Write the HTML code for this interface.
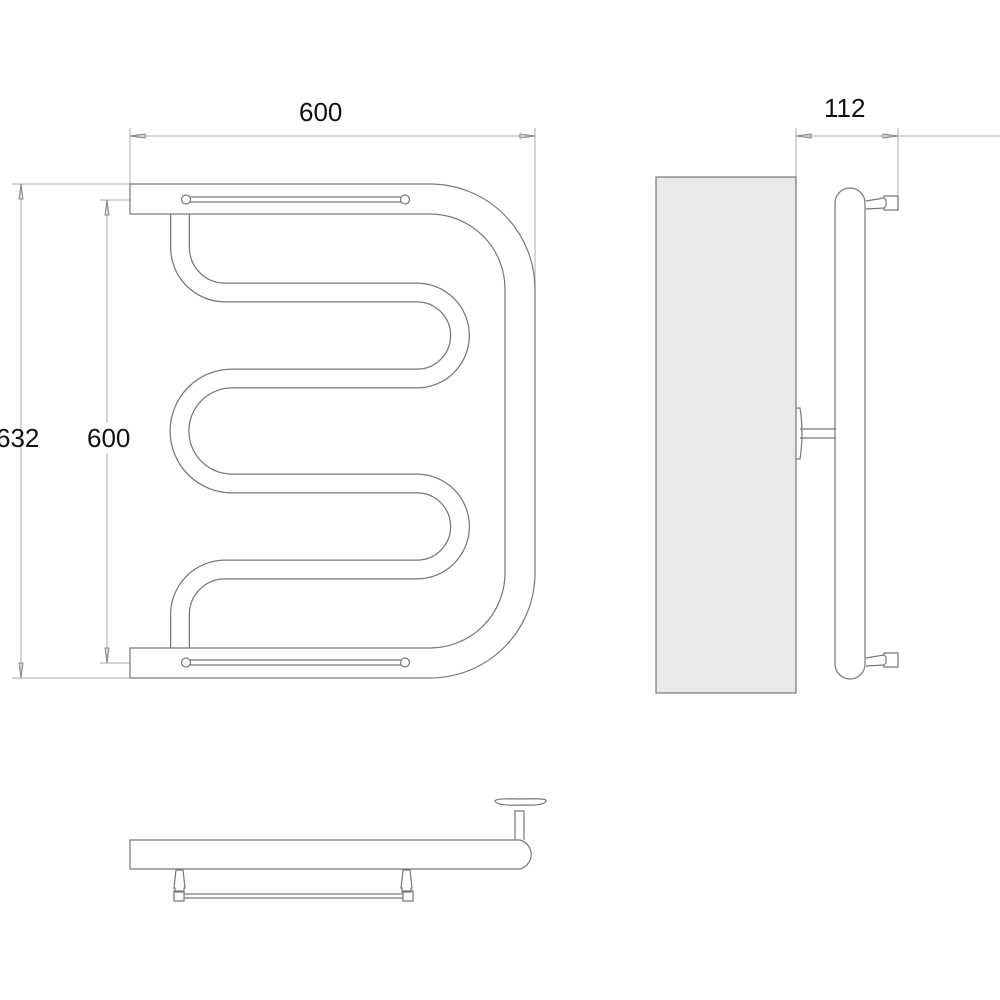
<!DOCTYPE html>
<html><head><meta charset="utf-8"><style>
html,body{margin:0;padding:0;background:#fff;width:1000px;height:1000px;overflow:hidden}
svg text{font-family:"Liberation Sans",sans-serif;font-size:26px;fill:#111}
</style></head><body>
<svg width="1000" height="1000" viewBox="0 0 1000 1000" xmlns="http://www.w3.org/2000/svg">
<g fill="none" stroke="#bbb" stroke-width="1.2">
  <!-- top dim -->
  <line x1="130" y1="136" x2="535" y2="136"/>
  <line x1="130" y1="128" x2="130" y2="184"/>
  <line x1="535" y1="128" x2="535" y2="290"/>
  <!-- left dims -->
  <line x1="12" y1="184" x2="130" y2="184"/>
  <line x1="12" y1="678" x2="130" y2="678"/>
  <line x1="21" y1="184" x2="21" y2="678"/>
  <line x1="100" y1="200" x2="130" y2="200"/>
  <line x1="100" y1="663" x2="130" y2="663"/>
  <line x1="107" y1="200" x2="107" y2="663"/>
  <!-- 112 dim -->
  <line x1="796" y1="136" x2="1000" y2="136"/>
  <line x1="796" y1="128" x2="796" y2="177"/>
  <line x1="898" y1="128" x2="898" y2="210"/>
</g>
<g fill="none" stroke="#888" stroke-width="1">
  <path d="M130,136 l15,-2 v4z M535,136 l-15,-2 v4z M21,184 l-2,15 h4z M21,678 l-2,-15 h4z M107,200 l-2,15 h4z M107,663 l-2,-15 h4z M796,136 l15,-2 v4z M898,136 l-15,-2 v4z"/>
</g>
<text x="299" y="121">600</text>
<text x="824" y="117">112</text>
<text x="-4" y="447">632</text>
<rect x="86" y="423" width="48" height="30" fill="#fff"/>
<text x="87" y="447">600</text>

<g fill="none" stroke="#777" stroke-width="1.2">
  <!-- serpentine -->
  <path d="M180,214 V247 A45,45 0 0 0 225,292.5 H417 A43,43 0 0 1 417,378.5 H232 A52.5,52.5 0 0 0 232,483.5 H417 A43,43 0 0 1 417,569.5 H225 A45,45 0 0 0 180,614.5 V648" stroke="#777" stroke-width="20"/>
  <path d="M180,213 V247 A45,45 0 0 0 225,292.5 H417 A43,43 0 0 1 417,378.5 H232 A52.5,52.5 0 0 0 232,483.5 H417 A43,43 0 0 1 417,569.5 H225 A45,45 0 0 0 180,614.5 V649" stroke="#fff" stroke-width="17.5"/>
  <!-- big tube -->
  <path d="M130,184 H430 A105,105 0 0 1 535,289 V573 A105,105 0 0 1 430,678 H130 V648 H430 A75,75 0 0 0 505,573 V289 A75,75 0 0 0 430,214 H130 Z" fill="#fff"/>
  <!-- rods -->
  <path d="M190,197 H402 M190,202 H402 M190,660 H402 M190,665 H402"/>
  <circle cx="186" cy="199.5" r="4.5" fill="#fff"/><circle cx="405" cy="199.5" r="4.5" fill="#fff"/>
  <circle cx="186" cy="662.5" r="4.5" fill="#fff"/><circle cx="405" cy="662.5" r="4.5" fill="#fff"/>

  <!-- side view -->
  <rect x="656" y="177" width="140" height="516" fill="#e8e9e9"/>
  <path d="M835,203 A15,15 0 0 1 865,203 V664 A15,15 0 0 1 835,664 Z" fill="#fff"/>
  <path d="M800,429 H836 M800,438 H836"/>
  <path d="M796,408 h4 q4,25 0,51 h-4"/>
  <path d="M866,201 L884,198 V196 H898 V210 H884 V208 L866,209 M884,198 l2,2 v6 l-2,2"/>
  <path d="M866,658 L884,655 V653 H898 V667 H884 V665 L866,666 M884,655 l2,2 v6 l-2,2"/>

  <!-- bottom view -->
  <path d="M130,840 H520 A15,15 0 0 1 520,869 H130 Z" fill="#fff"/>
  <path d="M515,840 V811 H524 V840"/>
  <path d="M495,801 Q496,798 520,799 Q548,798 546,801 Q545,806 520,805 Q497,806 495,801Z" fill="#fff"/>
  <path d="M176,870 h7 l2,18 h-1 v4 h-9 v-4 h-1z M403,870 h7 l2,18 h-1 v4 h-9 v-4 h-1z"/>
  <path d="M174,891 h10 v10 h-10z M403,891 h10 v10 h-10z"/>
  <path d="M184,894 H403 M184,898 H403"/>
</g>
</svg>
</body></html>
